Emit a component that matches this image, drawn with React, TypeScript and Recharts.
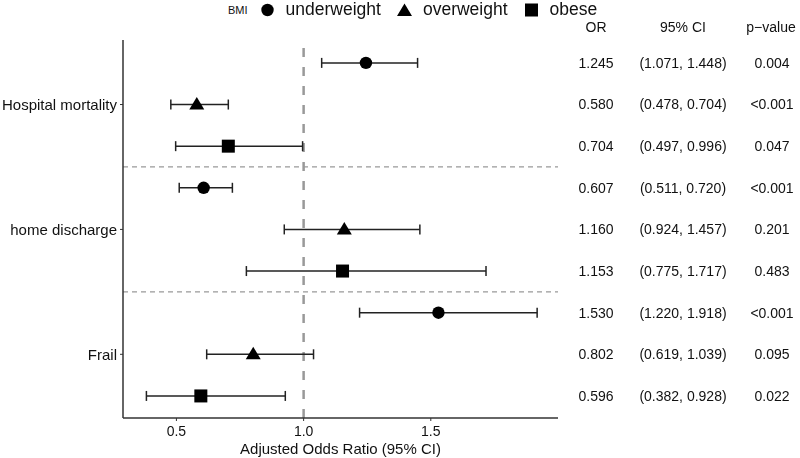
import React from "react"
import { ScatterChart, Scatter, XAxis, YAxis, ErrorBar, ReferenceLine } from "recharts"

const outcomes = ["Hospital mortality", "home discharge", "Frail"]
const groups = ["underweight", "overweight", "obese"]

// values in outcome order: Hospital mortality, home discharge, Frail
const underweightOR = [1.245, 0.607, 1.53]
const underweightLow = [1.071, 0.511, 1.22]
const underweightHigh = [1.448, 0.72, 1.918]
const underweightP = ["0.004", "<0.001", "<0.001"]

const overweightOR = [0.58, 1.16, 0.802]
const overweightLow = [0.478, 0.924, 0.619]
const overweightHigh = [0.704, 1.457, 1.039]
const overweightP = ["<0.001", "0.201", "0.095"]

const obeseOR = [0.704, 1.153, 0.596]
const obeseLow = [0.497, 0.775, 0.382]
const obeseHigh = [0.996, 1.717, 0.928]
const obeseP = ["0.047", "0.483", "0.022"]

const xTicks = [0.5, 1.0, 1.5]

const FONT = "'Liberation Sans', Arial, Helvetica, sans-serif"
const INK = "#111"

type Row = { x: number; y: number; err: [number, number]; or: number; lo: number; hi: number; p: string }

function buildRows(g: number, or: number[], lo: number[], hi: number[], p: string[]): Row[] {
  return or.map((v, o) => ({
    x: v,
    y: 10 - (o * 3 + g + 1),
    err: [v - lo[o], hi[o] - v],
    or: v,
    lo: lo[o],
    hi: hi[o],
    p: p[o],
  }))
}

const series = [
  { name: groups[0], kind: "circle", data: buildRows(0, underweightOR, underweightLow, underweightHigh, underweightP) },
  { name: groups[1], kind: "triangle", data: buildRows(1, overweightOR, overweightLow, overweightHigh, overweightP) },
  { name: groups[2], kind: "square", data: buildRows(2, obeseOR, obeseLow, obeseHigh, obeseP) },
]

const allRows = series.flatMap((s) => s.data)
const rowTicks = allRows.map((r) => r.y).sort((a, b) => b - a)
const outcomeTicks = outcomes.map((_, o) => 10 - (o * 3 + 2))

function Marker({ kind, cx, cy }: { kind: string; cx: number; cy: number }) {
  if (kind === "circle") return <circle cx={cx} cy={cy} r={6.2} fill="#000" />
  if (kind === "triangle")
    return <polygon points={`${cx},${cy - 7.5} ${cx - 7.5},${cy + 5} ${cx + 7.5},${cy + 5}`} fill="#000" />
  return <rect x={cx - 6.5} y={cy - 6.5} width={13} height={13} fill="#000" />
}

// right-hand table, one tick per row
function TableTick(props: any) {
  const { y, payload } = props
  const row = allRows.find((r) => r.y === payload.value)
  if (!row) return null
  const style = { fontFamily: FONT, fontSize: 14, fill: INK }
  return (
    <g>
      <text x={596} y={y} dy="0.35em" textAnchor="middle" style={style}>{row.or.toFixed(3)}</text>
      <text x={683} y={y} dy="0.35em" textAnchor="middle" style={style}>
        ({row.lo.toFixed(3)}, {row.hi.toFixed(3)})
      </text>
      <text x={772} y={y} dy="0.35em" textAnchor="middle" style={style}>{row.p}</text>
    </g>
  )
}

function LegendIcon({ kind }: { kind: string }) {
  return (
    <svg width={15} height={14} style={{ display: "block" }}>
      <Marker kind={kind} cx={7.5} cy={kind === "triangle" ? 8 : 7} />
    </svg>
  )
}

export default function App() {
  return (
    <div style={{ position: "fixed", left: 0, top: 0, width: 800, height: 458, background: "#fff", fontFamily: FONT }}>
      <div style={{ position: "absolute", left: 228, top: 0, height: 19, display: "flex", alignItems: "center", color: INK }}>
        <span style={{ fontSize: 11, marginRight: 12 }}>BMI</span>
        {series.map((s, i) => (
          <React.Fragment key={s.name}>
            <LegendIcon kind={s.kind} />
            <span style={{ fontSize: 17.5, marginLeft: 11, marginRight: i < series.length - 1 ? 16 : 0 }}>{s.name}</span>
          </React.Fragment>
        ))}
      </div>
      {[
        ["OR", 596],
        ["95% CI", 683],
        ["p\u2212value", 771],
      ].map(([t, x]) => (
        <div
          key={t as string}
          style={{ position: "absolute", top: 19, left: (x as number) - 50, width: 100, textAlign: "center", fontSize: 14, color: INK }}
        >
          {t}
        </div>
      ))}
      <ScatterChart width={800} height={458} margin={{ top: 40, right: 0, bottom: 0, left: 0 }}>
        <XAxis
          type="number"
          dataKey="x"
          domain={[0.29, 2.0]}
          ticks={xTicks}
          allowDataOverflow
          tickFormatter={(v: number) => v.toFixed(1)}
          height={40}
          tickSize={3}
          tickMargin={5}
          axisLine={{ stroke: "#333", strokeWidth: 1.5 }}
          tickLine={{ stroke: "#333" }}
          tick={{ fontSize: 14, fill: INK, fontFamily: FONT }}
          label={{ value: "Adjusted Odds Ratio (95% CI)", position: "insideBottom", offset: 4, fontSize: 15, fill: INK, fontFamily: FONT }}
        />
        <YAxis
          type="number"
          dataKey="y"
          domain={[0.47, 9.55]}
          ticks={outcomeTicks}
          allowDataOverflow
          width={123}
          tickFormatter={(v: number) => outcomes[outcomeTicks.indexOf(v)] ?? ""}
          tickSize={3}
          tickMargin={3}
          axisLine={{ stroke: "#333", strokeWidth: 1.5 }}
          tickLine={{ stroke: "#333" }}
          tick={{ fontSize: 15, fill: INK, fontFamily: FONT }}
        />
        <YAxis
          yAxisId="table"
          orientation="right"
          type="number"
          domain={[0.47, 9.55]}
          ticks={rowTicks}
          allowDataOverflow
          width={242}
          axisLine={false}
          tickLine={false}
          tick={<TableTick />}
        />
        <ReferenceLine x={1} stroke="#999" strokeWidth={2.5} strokeDasharray="9 10" />
        <ReferenceLine y={6.5} stroke="#999" strokeWidth={1.2} strokeDasharray="5 4" />
        <ReferenceLine y={3.5} stroke="#999" strokeWidth={1.2} strokeDasharray="5 4" />
        {series.map((s) => (
          <Scatter
            key={s.name}
            name={s.name}
            data={s.data}
            isAnimationActive={false}
            shape={(p: any) => <Marker kind={s.kind} cx={p.cx} cy={p.cy} />}
          >
            <ErrorBar dataKey="err" direction="x" width={5} stroke="#222" strokeWidth={1.5} />
          </Scatter>
        ))}
      </ScatterChart>
    </div>
  )
}
